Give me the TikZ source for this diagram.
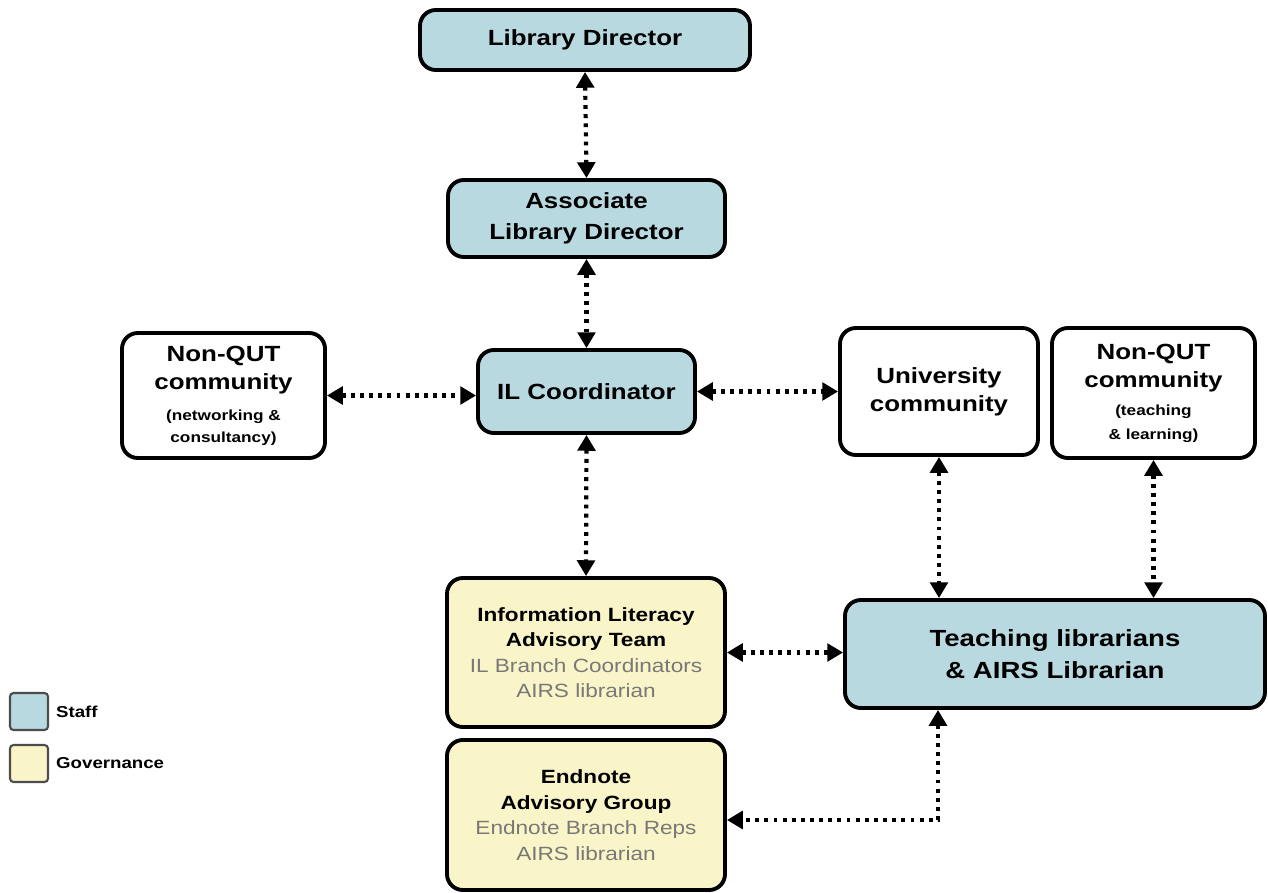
\documentclass[tikz,border=0pt]{standalone}
\usepackage{fontspec}
\setmainfont{Liberation Sans}[FakeStretch=1.18]
\usetikzlibrary{arrows.meta,positioning}
\definecolor{staffc}{RGB}{185,217,224}
\definecolor{govc}{RGB}{250,245,200}
\definecolor{subgray}{RGB}{120,120,120}
\tikzset{
  box/.style={draw=black,line width=2.2pt,rounded corners=9pt,align=center,inner sep=2pt},
  staffbox/.style={box,fill=staffc,font=\bfseries\fontsize{12.5}{17.5}\selectfont},
  plainbox/.style={box,fill=white,font=\bfseries\fontsize{12.5}{16}\selectfont},
  govbox/.style={box,fill=govc,font=\fontsize{10.9}{14.5}\selectfont},
  arr/.style={line width=2.4pt,dash pattern=on 2.2pt off 3pt,{Triangle[length=9pt,width=10pt]}-{Triangle[length=9pt,width=10pt]}},
  legbox/.style={draw=black!70,line width=1.2pt,rounded corners=2pt,minimum width=0.76cm,minimum height=0.74cm},
  legtext/.style={font=\bfseries\fontsize{9}{10}\selectfont,anchor=west}
}
\newcommand{\smalltxt}[1]{{\fontsize{8.3}{10.5}\selectfont #1}}
\newcommand{\graytxt}[1]{{\mdseries\color{subgray}#1}}
\begin{document}
\begin{tikzpicture}
\useasboundingbox (0,0) rectangle (25.36,-17.86);
\node[staffbox,minimum width=6.6cm,minimum height=1.2cm] (LD) at (11.7,-0.8) {Library Director};
\node[staffbox,minimum width=5.54cm,minimum height=1.54cm] (ALD) at (11.73,-4.37) {Associate\\Library Director};
\node[staffbox,minimum width=4.34cm,minimum height=1.66cm] (ILC) at (11.73,-7.83) {IL Coordinator};
\node[plainbox,minimum width=4.06cm,minimum height=2.5cm] (NQL) at (4.47,-7.91) {Non-QUT\\community\\[2pt]\smalltxt{(networking \&}\\[-4pt]\smalltxt{consultancy)}};
\node[plainbox,minimum width=3.96cm,minimum height=2.54cm] (UC) at (18.78,-7.83) {University\\community};
\node[plainbox,minimum width=4.06cm,minimum height=2.6cm] (NQR) at (23.07,-7.86) {Non-QUT\\community\\\smalltxt{(teaching}\\[-2.5pt]\smalltxt{\& learning)}};
\node[govbox,minimum width=5.56cm,minimum height=2.98cm] (ILAT) at (11.72,-13.05) {\textbf{Information Literacy}\\\textbf{Advisory Team}\\\graytxt{IL Branch Coordinators}\\\graytxt{AIRS librarian}};
\node[govbox,minimum width=5.56cm,minimum height=3.0cm] (END) at (11.72,-16.3) {\textbf{Endnote}\\\textbf{Advisory Group}\\\graytxt{Endnote Branch Reps}\\\graytxt{AIRS librarian}};
\node[staffbox,minimum width=8.4cm,minimum height=2.16cm,font=\bfseries\fontsize{13.3}{18.5}\selectfont] (TL) at (21.1,-13.08) {Teaching librarians\\\& AIRS Librarian};
\node[legbox,fill=staffc] (LS) at (0.58,-14.23) {};
\node[legtext] (LSt) at (1.0,-14.23) {Staff};
\node[legbox,fill=govc] (LG) at (0.58,-15.27) {};
\node[legtext] (LGt) at (1.0,-15.27) {Governance};
\coordinate (bend) at (18.76,-16.4);
\draw[arr] (LD.south) -- (ALD.north);
\draw[arr] (ALD.south) -- (ILC.north);
\draw[arr] (NQL.east) -- (NQL.east -| ILC.west);
\draw[arr] (ILC.east) -- (ILC.east -| UC.west);
\draw[arr] (ILC.south) -- (ILAT.north);
\draw[arr] (UC.south) -- (UC.south |- TL.north);
\draw[arr] (NQR.south) -- (NQR.south |- TL.north);
\draw[arr] (ILAT.east) -- (ILAT.east -| TL.west);
\draw[arr] (bend |- TL.south) -- (bend) -- (bend -| END.east);
\end{tikzpicture}
\end{document}
